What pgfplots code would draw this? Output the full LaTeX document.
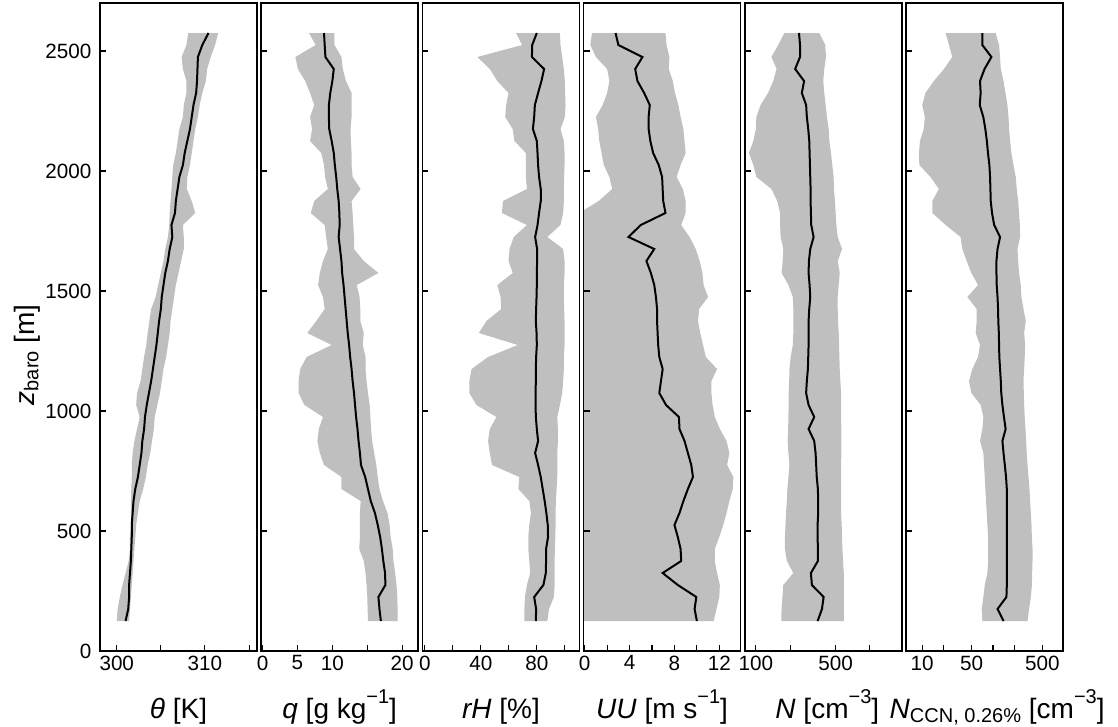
\documentclass[border=0pt]{standalone}
\usepackage{fontspec}
\setmainfont{Liberation Sans}
\usepackage{pgfplots}
\usepackage{pgfplotstable}
\usepgfplotslibrary{fillbetween}
\pgfplotsset{compat=1.18}
\definecolor{band}{RGB}{191,191,191}
\newcommand{\sups}[1]{\raisebox{0.52em}{\fontsize{15}{15}\selectfont #1}}
\newcommand{\subs}[1]{\raisebox{-0.15em}{\fontsize{15}{15}\selectfont #1}}

% theta [K]
\pgfplotstableread{
h lo med hi
2575 308.1 310.4 311.5
2525 307.9 309.7 311.15
2475 307.35 309.2 310.65
2425 307.5 309.15 310.25
2375 307.9 309.1 310.1
2325 307.9 309.0 309.7
2275 307.6 308.7 309.4
2225 307.5 308.5 309.2
2175 307.1 308.3 308.9
2125 306.9 308.0 308.7
2075 306.7 307.7 308.5
2025 306.4 307.5 308.3
1975 306.3 307.1 308.0
1925 306.2 306.9 307.95
1875 306.1 306.7 308.5
1825 306.0 306.6 308.9
1775 305.95 306.2 307.5
1725 305.8 306.3 307.6
1675 305.5 306.0 307.6
1625 305.3 305.8 307.3
1575 305.0 305.5 307.0
1525 304.7 305.3 306.7
1475 304.4 305.1 306.5
1425 303.9 305.0 306.3
1375 303.7 304.8 306.1
1325 303.5 304.65 306.0
1275 303.35 304.5 305.8
1225 303.1 304.3 305.6
1175 302.9 304.1 305.3
1125 302.7 303.9 305.1
1075 302.3 303.65 304.9
1025 302.2 303.4 304.6
975 302.6 303.2 304.3
925 302.3 303.1 304.2
875 302.0 302.9 304.0
825 301.8 302.8 303.8
775 301.7 302.6 303.5
725 301.7 302.4 303.3
675 301.65 302.1 303.0
625 301.6 301.9 302.6
575 301.6 301.8 302.4
525 301.6 301.7 302.2
475 301.5 301.7 302.1
425 301.5 301.65 302.0
375 301.35 301.6 301.9
325 301.0 301.5 301.8
275 300.65 301.4 301.7
225 300.35 301.4 301.6
175 300.1 301.3 301.5
125 300.0 301.0 301.4
}\tabTheta

% q [g/kg]
\pgfplotstableread{
h lo med hi
2575 6.65 8.8 10.3
2525 7.6 8.9 10.3
2475 4.7 9.0 11.3
2425 5.05 10.2 11.5
2375 6.1 10.0 11.95
2325 6.8 9.7 12.75
2275 7.4 9.5 12.75
2225 6.8 9.5 12.75
2175 7.1 9.55 12.6
2125 6.8 9.9 12.65
2075 8.4 10.2 12.75
2025 8.8 10.35 12.75
1975 8.95 10.55 12.9
1925 9.35 10.7 14.05
1875 7.4 10.9 12.75
1825 6.9 11.0 12.9
1775 8.9 11.05 13.0
1725 9.1 10.9 13.1
1675 9.35 11.1 13.1
1625 8.65 11.3 14.5
1575 8.2 11.4 16.6
1525 7.95 11.6 13.5
1475 8.65 11.75 13.9
1425 8.9 11.9 14.0
1375 7.7 12.05 14.0
1325 6.4 12.2 14.5
1275 9.9 12.4 14.35
1225 6.3 12.55 14.75
1175 5.4 12.75 14.75
1125 5.15 12.9 14.9
1075 5.15 13.1 15.1
1025 6.0 13.25 15.35
975 8.65 13.4 15.45
925 8.05 13.6 15.55
875 7.85 13.75 15.7
825 8.2 13.95 16.0
775 8.8 14.1 16.3
725 11.3 14.7 16.5
675 11.3 15.1 16.75
625 14.05 15.5 17.25
575 13.95 16.1 17.9
525 13.95 16.5 18.2
475 13.95 16.85 18.35
425 13.85 17.1 18.65
375 14.5 17.3 18.75
325 14.75 17.55 19.0
275 14.9 17.6 19.2
225 15.0 16.6 19.3
175 15.05 16.75 19.35
125 15.1 16.95 19.35
}\tabQ

% rH [%]
\pgfplotstableread{
h lo med hi
2575 65.2 80.0 96.5
2525 69.5 76.7 96.9
2475 37.5 76.5 98.1
2425 46.4 85.2 99.3
2375 51.8 83.3 100.0
2325 59.8 80.9 100.2
2275 58.1 78.6 100.5
2225 57.4 78.1 100.0
2175 62.8 77.2 96.9
2125 64.0 80.0 99.3
2075 72.2 80.5 99.8
2025 72.2 80.9 99.8
1975 72.2 81.6 99.5
1925 72.9 82.8 99.3
1875 55.8 82.8 99.3
1825 55.1 81.6 98.8
1775 72.9 80.5 96.9
1725 63.5 78.8 87.5
1675 60.5 80.2 98.8
1625 59.8 80.2 99.8
1575 62.8 80.0 99.8
1525 51.8 80.0 99.3
1475 54.1 79.8 99.3
1425 54.6 79.5 99.5
1375 44.0 79.3 99.8
1325 38.6 79.8 99.8
1275 66.4 80.0 99.8
1225 45.2 79.5 99.3
1175 33.4 79.3 99.3
1125 31.8 79.3 98.8
1075 31.8 79.1 98.1
1025 36.9 79.1 96.5
975 51.1 79.3 94.6
925 46.4 80.0 95.1
875 45.2 80.9 95.1
825 46.4 78.8 94.6
775 48.0 80.9 94.6
725 67.5 82.8 94.6
675 66.8 84.2 94.1
625 74.6 85.6 93.6
575 75.8 86.8 93.4
525 74.6 87.8 93.4
475 73.9 88.0 93.2
425 73.9 86.6 92.9
375 74.6 86.6 92.7
325 75.3 86.4 92.7
275 72.9 84.7 92.7
225 71.5 78.1 92.2
175 71.1 79.5 88.7
125 71.1 79.3 87.5
}\tabRH

% UU [m/s]
\pgfplotstableread{
h lo med hi
2575 0.65 2.75 7.2
2525 0.5 3.0 7.3
2475 1.0 5.15 7.55
2425 2.0 4.5 7.5
2375 2.2 4.7 7.85
2325 2.0 5.3 8.05
2275 1.6 5.8 8.35
2225 1.0 5.7 8.55
2175 1.2 5.7 8.8
2125 1.3 5.85 8.9
2075 1.5 6.1 9.0
2025 1.7 6.6 8.55
1975 2.2 6.9 8.2
1925 2.45 6.95 8.75
1875 1.25 7.0 9.0
1825 -0.5 7.2 9.0
1775 -0.5 5.0 8.6
1725 -0.5 3.9 9.35
1675 -0.5 6.2 9.9
1625 -0.5 5.5 10.25
1575 -0.5 5.9 10.5
1525 -0.5 6.2 10.6
1475 -0.5 6.35 11.0
1425 -0.5 6.45 10.2
1375 -0.5 6.45 10.1
1325 -0.5 6.5 10.3
1275 -0.5 6.55 10.55
1225 -0.5 6.65 10.8
1175 -0.5 6.95 11.8
1125 -0.5 6.8 11.3
1075 -0.5 6.65 11.3
1025 -0.5 7.25 11.4
975 -0.5 8.4 11.6
925 -0.5 8.45 12.05
875 -0.5 8.9 12.65
825 -0.5 9.2 12.9
775 -0.5 9.5 12.7
725 -0.5 9.65 13.25
675 -0.5 9.2 13.2
625 -0.5 8.8 12.9
575 -0.5 8.45 12.65
525 -0.5 8.0 12.35
475 -0.5 8.3 12.0
425 -0.5 8.55 11.6
375 -0.5 8.6 11.6
325 -0.5 6.95 11.8
275 -0.5 8.3 12.05
225 -0.5 9.95 12.0
175 -0.5 9.8 11.75
125 -0.5 10.0 11.5
}\tabUU

% N [cm^-3]
\pgfplotstableread{
h lo med hi
2575 178 239 360
2525 157 244 406
2475 137 244 412
2425 152 221 398
2375 142 265 390
2325 128 253 398
2275 110 276 409
2225 101 280 420
2175 100 288 435
2125 95 294 441
2075 87 296 456
2025 95 298 468
1975 101 300 481
1925 137 302 484
1875 154 302 494
1825 163 304 501
1775 163 306 508
1725 165 321 522
1675 174 300 570
1625 172 292 522
1575 168 290 544
1525 193 296 533
1475 211 300 522
1425 213 294 522
1375 213 290 526
1325 213 290 533
1275 211 290 537
1225 202 288 540
1175 197 286 544
1125 196 280 551
1075 194 276 559
1025 194 290 559
975 193 325 559
925 192 290 562
875 190 325 562
825 193 334 562
775 197 338 559
725 193 342 559
675 189 350 559
625 187 352 559
575 184 352 559
525 182 348 566
475 180 348 570
425 180 350 574
375 187 350 582
325 213 304 590
275 174 310 590
225 171 393 590
175 168 380 590
125 167 348 590
}\tabN

% N_CCN [cm^-3]
\pgfplotstableread{
h lo med hi
2575 21.4 70.8 109
2525 23.9 70.8 122
2475 26.6 95 126
2425 20.3 76 129
2375 14.6 65.6 141
2325 11.1 67 150
2275 10.0 65 160
2225 10.9 73 166
2175 10.5 78 169
2125 9.3 82 175
2075 9.0 85 182
2025 9.1 89 195
1975 13.1 91 210
1925 17.2 92 217
1875 13.9 93 227
1825 13.9 97 234
1775 21.4 104 240
1725 34.9 126 242
1675 36.9 116 222
1625 42.5 112 227
1575 49.5 112 234
1525 61.5 113 247
1475 43.4 116 252
1425 58.9 118 270
1375 58.9 119 291
1325 57.0 121 276
1275 65.6 122 285
1225 61.5 123 281
1175 51.1 126 276
1125 45.8 129 270
1075 49.5 131 273
1025 67.1 136 276
975 73.2 143 281
925 70.8 151 288
875 65.6 136 295
825 73.2 141 300
775 74.8 147 308
725 76.6 153 318
675 78.1 157 328
625 79.8 157 335
575 81.7 157 343
525 83.4 157 350
475 85.4 157 355
425 85.4 157 362
375 85.4 157 362
325 83.4 157 358
275 76.6 157 355
225 73.2 155 343
175 69.3 116 324
125 70.8 141 308
}\tabCCN

\pgfplotsset{
  prof/.style={
    scale only axis, width=117.75pt, height=486pt,
    anchor=south west,
    ymin=0, ymax=2700, ytick={0,500,1000,1500,2000,2500},
    yticklabels={},
    tick align=inside, xtick pos=bottom, ytick pos=left,
    major tick length=4.5pt,
    xminorticks=false, yminorticks=false,
    axis line style={line width=1.1pt},
    every tick/.style={black, line width=0.8pt},
    tick label style={font=\fontsize{15.5}{18}\selectfont},
    /pgf/number format/assume math mode=true,
    every axis x label/.style={at={(axis description cs:0.5,-0.1034)}, anchor=base,
      font=\fontsize{21}{25}\selectfont},
    axis on top,
  },
  bandfill/.style={fill=band, draw=none},
  medline/.style={black, line width=1.5pt},
}

\newcommand{\profile}[1]{%
  \addplot[name path=L, draw=none] table[x=lo,y=h]{#1};
  \addplot[name path=H, draw=none] table[x=hi,y=h]{#1};
  \addplot[bandfill] fill between[of=L and H, reverse=true];
  \addplot[medline] table[x=med,y=h]{#1};
}

\begin{document}
\begin{tikzpicture}
% theta
\begin{axis}[prof, at={(75pt,56.25pt)},
  xmin=298.1, xmax=315.9, xtick={300,305,310,315}, xticklabels={300,,310,},
  yticklabels={0,500,1000,1500,2000,2500},
  yticklabel style={xshift=-3pt},
  ylabel={\textit{z}\subs{baro} [m]},
  every axis y label/.style={at={(axis description cs:-0.465,0.457)}, rotate=90, anchor=center,
    font=\fontsize{21}{25}\selectfont},
  xlabel={\textit{θ} [K]}]
\profile{\tabTheta}
\end{axis}
% q
\begin{axis}[prof, at={(195.9pt,56.25pt)},
  xmin=-0.2, xmax=22.3, xtick={0,5,10,15,20}, xticklabels={0,5,10,,20},
  xlabel={\textit{q} [g kg\sups{−1}]}]
\profile{\tabQ}
\end{axis}
% rH
\begin{axis}[prof, at={(316.8pt,56.25pt)},
  xmin=-1.7, xmax=110.4, xtick={0,20,40,60,80,100}, xticklabels={0,,40,,80,},
  xlabel={\textit{rH} [\%]}]
\profile{\tabRH}
\end{axis}
% UU
\begin{axis}[prof, at={(437.7pt,56.25pt)},
  xmin=-0.1, xmax=13.9, xtick={0,2,4,6,8,10,12}, xticklabels={0,,4,,8,,12},
  xlabel={\textit{UU} [m s\sups{−1}]}]
\profile{\tabUU}
\end{axis}
% N
\begin{axis}[prof, at={(558.6pt,56.25pt)}, xmode=log,
  xmin=80, xmax=1905, xtick={100,200,500,1000}, xticklabels={100,,500,},
  xlabel={\textit{N} [cm\sups{−3}]}, xlabel style={xshift=3pt}]
\profile{\tabN}
\end{axis}
% N_CCN
\begin{axis}[prof, at={(679.5pt,56.25pt)}, xmode=log,
  xmin=5.9, xmax=977, xtick={10,20,50,100,200,500}, xticklabels={10,,50,,,500},
  xlabel={\textit{N}\subs{CCN, 0.26\%} [cm\sups{−3}]}, xlabel style={xshift=9.5pt}]
\profile{\tabCCN}
\end{axis}
\pgfresetboundingbox
\path[use as bounding box] (0,0) rectangle (838.5pt,544.5pt);
\end{tikzpicture}
\end{document}
